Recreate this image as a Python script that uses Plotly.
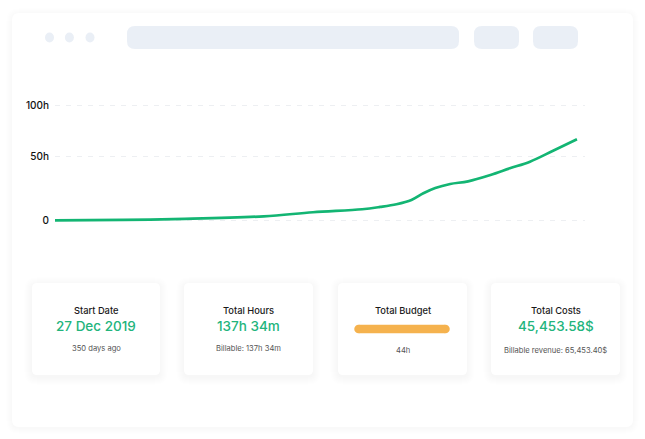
import plotly.graph_objects as go

W, H = 645, 439

# ---- data ----
elapsed_days = [0, 46, 87, 140, 173, 206, 218, 229, 239, 247, 255, 265, 277, 292, 305, 318.5, 334, 350]
logged_hours = [0, 0.3, 1.2, 3.5, 7, 9.6, 11.6, 14.0, 17.7, 23.5, 28.1, 31.6, 33.9, 39.4, 45.2, 51, 60.5, 70.4]
tick_positions = [0, 55.65, 100]
tick_labels = ["0", "50h", "100h"]
budget_hours = [0, 44]
budget_row = [0, 0]

card_titles = ["Start Date", "Total Hours", "Total Budget", "Total Costs"]
card_values = ["27 Dec 2019", "137h 34m", "", "45,453.58$"]
card_notes = ["350 days ago", "Billable: 137h 34m", "44h", "Billable revenue: 65,453.40$"]
card_spans = [(32, 160), (184, 313), (338, 467), (491, 620)]

GREEN = "#13B573"
TEXT_GREEN = "#22B47C"
ORANGE = "#F5B24E"
BLOCK = "#EAEFF6"
FONT = "Inter"


def fx(px):
    return px / W


def fy(px):
    return 1 - px / H


def rounded(x0, y0, x1, y1, r):
    pts = [
        ("M", x0 + r, y0), ("L", x1 - r, y0), ("Q", x1, y0, x1, y0 + r),
        ("L", x1, y1 - r), ("Q", x1, y1, x1 - r, y1), ("L", x0 + r, y1),
        ("Q", x0, y1, x0, y1 - r), ("L", x0, y0 + r), ("Q", x0, y0, x0 + r, y0),
    ]
    out = []
    for p in pts:
        nums = p[1:]
        coords = [f"{fx(nums[i]):.5f},{fy(nums[i + 1]):.5f}" for i in range(0, len(nums), 2)]
        out.append(p[0] + " ".join(coords))
    return "".join(out) + "Z"


def block(x0, y0, x1, y1, r, fill):
    return dict(type="path", xref="paper", yref="paper", path=rounded(x0, y0, x1, y1, r),
                fillcolor=fill, line=dict(width=0), layer="below")


def shadowed(x0, y0, x1, y1, r, spread, alpha, dy=1):
    out = []
    for s in range(spread, 0, -1):
        out.append(block(x0 - s, y0 - s + dy, x1 + s, y1 + s + dy, r + s, f"rgba(50,60,90,{alpha})"))
    out.append(block(x0, y0, x1, y1, r, "#FFFFFF"))
    return out


shapes = []
shapes += shadowed(12, 13, 633, 427, 7, 6, 0.004)
for cx in (49.5, 69.4, 90):
    shapes.append(dict(type="circle", xref="paper", yref="paper",
                       x0=fx(cx - 4.5), x1=fx(cx + 4.5), y0=fy(42.5), y1=fy(32.5),
                       fillcolor=BLOCK, line=dict(width=0), layer="below"))
shapes.append(block(127, 26, 459, 49, 8, BLOCK))
shapes.append(block(474, 26, 519, 49, 8, BLOCK))
shapes.append(block(533, 26, 578, 49, 8, BLOCK))
for x0, x1 in card_spans:
    shapes += shadowed(x0, 283, x1, 375, 5, 8, 0.0028, dy=2)

annotations = []


def label(cx, cy, text, size, color, weight=400):
    annotations.append(dict(xref="paper", yref="paper", x=fx(cx), y=fy(cy), text=text,
                            showarrow=False, xanchor="center", yanchor="middle",
                            font=dict(family=FONT, size=size, color=color, weight=weight)))


for (x0, x1), t, v, n in zip(card_spans, card_titles, card_values, card_notes):
    cx = (x0 + x1) / 2
    label(cx, 310.7, t, 9.3, "#1A1A1A", 500)
    if v:
        label(cx, 326, v, 13.5, TEXT_GREEN, 500)
    label(cx, 350 if not v or t == "Total Costs" else 348.3, n, 7.6, "#555555", 400)

fig = go.Figure()
fig.add_trace(go.Scatter(x=elapsed_days, y=logged_hours, mode="lines", cliponaxis=False,
                         line=dict(color=GREEN, width=2.7, shape="spline", smoothing=1.0),
                         hoverinfo="skip", showlegend=False))
fig.add_trace(go.Scatter(x=budget_hours, y=budget_row, mode="lines+markers", xaxis="x2", yaxis="y2",
                         cliponaxis=False, line=dict(color=ORANGE, width=8.5),
                         marker=dict(color=ORANGE, size=8.5, line=dict(width=0)),
                         hoverinfo="skip", showlegend=False))

PX_PER_UNIT = 1.15
pad_units = 5
fig.update_layout(
    width=W, height=H, margin=dict(l=0, r=0, t=0, b=0, autoexpand=False),
    paper_bgcolor="#FFFFFF", plot_bgcolor="rgba(0,0,0,0)",
    shapes=shapes, annotations=annotations, showlegend=False,
    xaxis=dict(domain=[fx(55), fx(585)], range=[0, 355.4], visible=False, fixedrange=True),
    yaxis=dict(domain=[fy(220.3 + pad_units * PX_PER_UNIT), fy(105.3 - pad_units * PX_PER_UNIT)],
               range=[-pad_units, 100 + pad_units], tickvals=tick_positions,
               ticktext=tick_labels, showgrid=True, gridcolor="#EDEFF2", griddash="5px,6px",
               gridwidth=1, zeroline=False, showline=False, ticks="", ticklabelstandoff=5,
               tickfont=dict(family=FONT, size=10, color="#111111", weight=500), fixedrange=True),
    xaxis2=dict(domain=[fx(358.5), fx(445.5)], range=[0, 44], visible=False, anchor="y2", fixedrange=True),
    yaxis2=dict(domain=[fy(339), fy(319)], range=[-1, 1], visible=False, anchor="x2", fixedrange=True),
)

fig.write_html("out.html", config=dict(displayModeBar=False),
               post_script="document.body.style.margin='0';")
